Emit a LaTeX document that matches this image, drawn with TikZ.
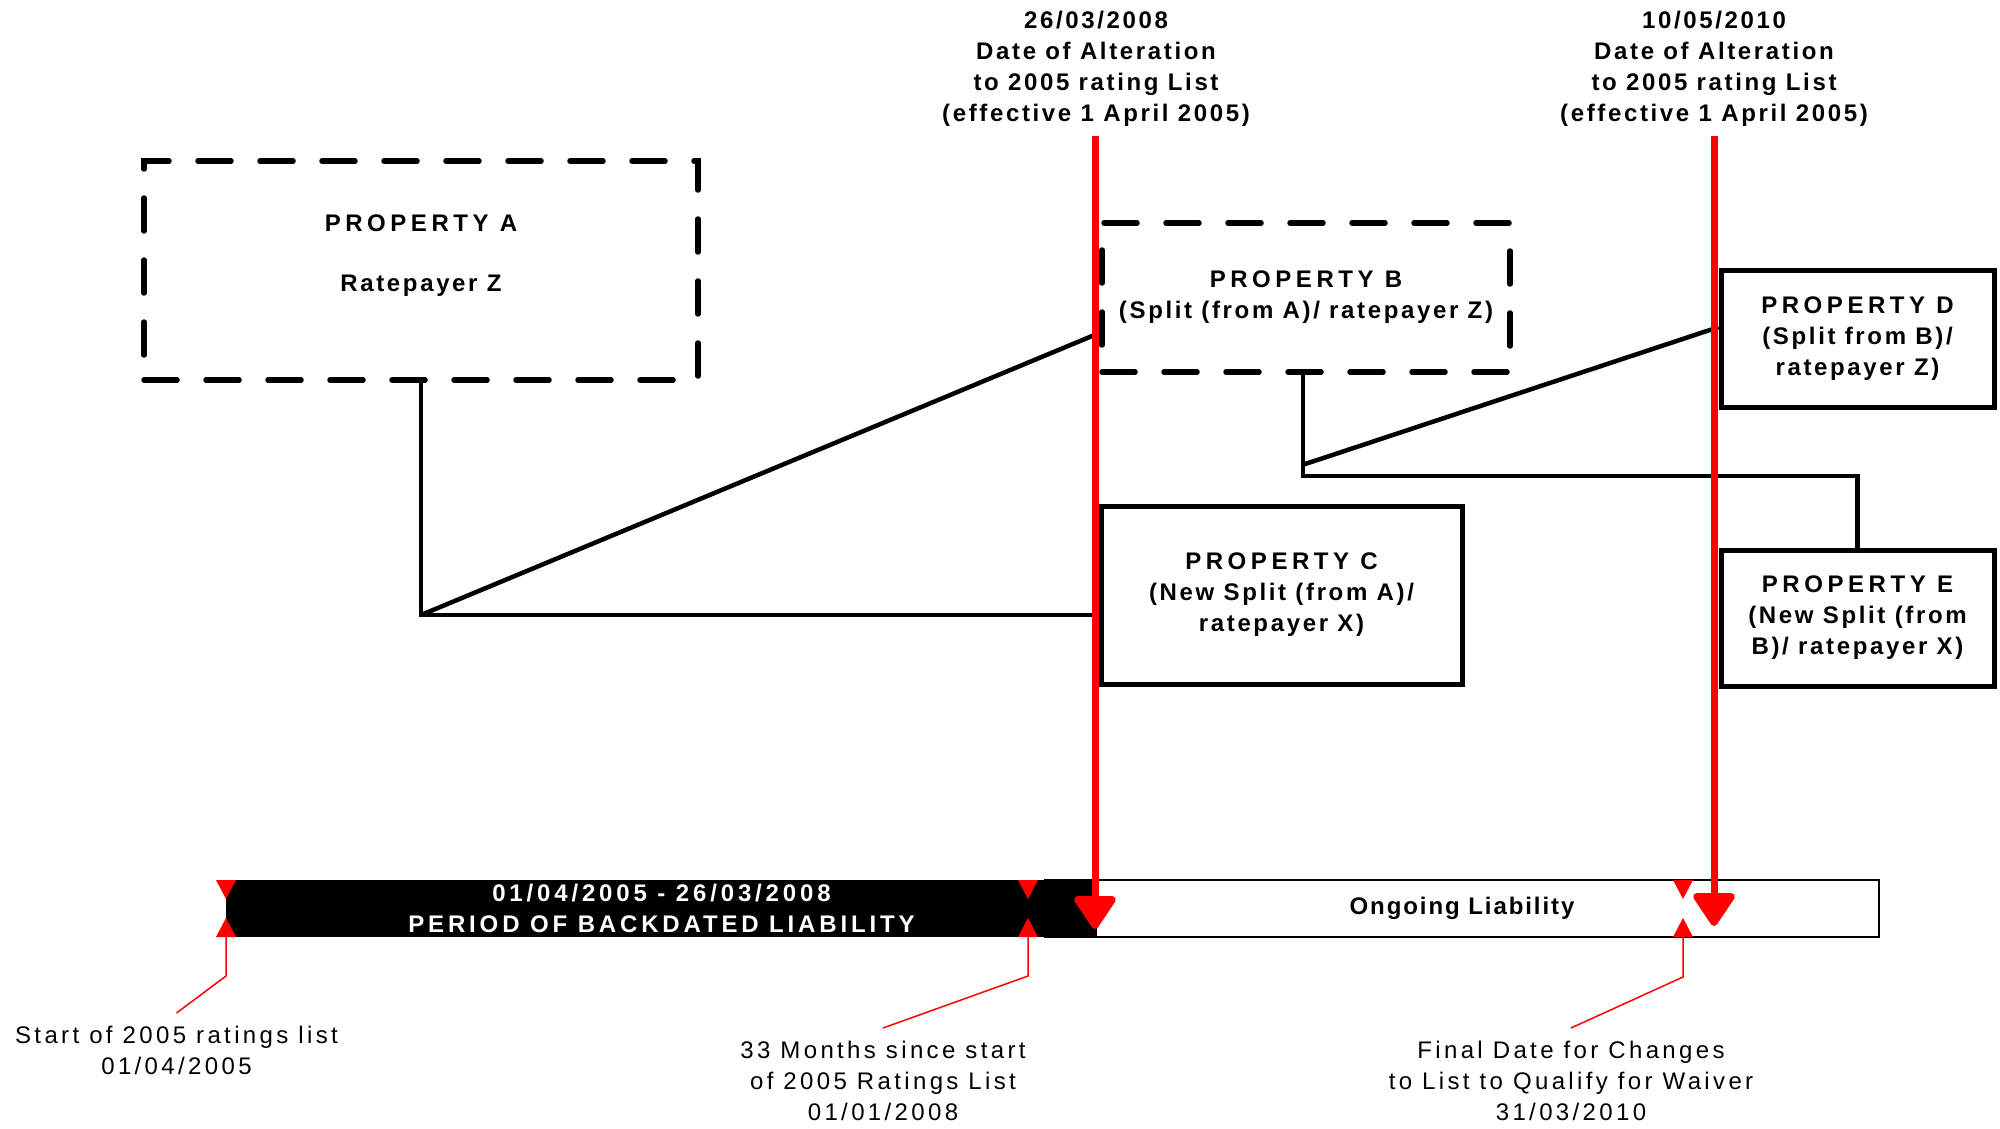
\documentclass[tikz,border=0pt]{standalone}
\usepackage{fontspec}
\setmainfont{Liberation Sans}
\newfontfamily\propfam[LetterSpace=11]{Liberation Sans}
\newfontfamily\capfam[LetterSpace=19]{Liberation Sans}
\newfontfamily\topfam[LetterSpace=11]{Liberation Sans}
\newfontfamily\barfam[LetterSpace=16]{Liberation Sans}
\newfontfamily\ongfam[LetterSpace=8]{Liberation Sans}
\newfontfamily\notefam[LetterSpace=14]{Liberation Sans}
\usetikzlibrary{arrows.meta,calc}
\newcommand{\fsz}{\fontsize{24}{31}\selectfont}
\newcommand{\ttl}[1]{{\capfam\bfseries #1}}

\begin{document}
\begin{tikzpicture}[x=1pt,y=-1pt,
  propbox/.style={draw=black, line width=5pt, align=center, inner sep=0pt, font=\propfam\bfseries\fsz},
  propdash/.style={propbox, line width=5.5pt, dash pattern=on 33pt off 29pt, line cap=round},
  proptext/.style={align=center, inner sep=0pt, font=\propfam\bfseries\fsz},
  conn/.style={draw=black, line width=4.5pt},
  redarrow/.style={draw=red, line width=7pt, -{Triangle[width=46pt,length=36pt,round]}},
  callout/.style={draw=red, line width=1.5pt},
  toplabel/.style={align=center, inner sep=0pt, anchor=north, font=\topfam\bfseries\fsz},
  notelabel/.style={align=center, inner sep=0pt, anchor=north, font=\notefam\fsz},
  barpart/.style={minimum height=57pt, inner sep=0pt, align=center}]

\useasboundingbox[fill=white] (0,0) rectangle (2000,1129);

% property boxes
\node[propdash, minimum width=554pt, minimum height=219pt] (A) at (421,270.5) {};
\node[proptext] (Atext) at (421,256) {\ttl{PROPERTY A}\\[29pt]Ratepayer Z};
\node[propdash, minimum width=408pt, minimum height=149pt] (B) at (1306,297.5) {\ttl{PROPERTY B}\\(Split (from A)/ ratepayer Z)};
\node[propbox, minimum width=361pt, minimum height=178pt] (C) at (1281.5,595) {\ttl{PROPERTY C}\\(New Split (from A)/\\ratepayer X)};
\node[propbox, minimum width=273pt, minimum height=137pt] (D) at (1857.5,338.5) {\ttl{PROPERTY D}\\(Split from B)/\\ratepayer Z)};
\node[propbox, minimum width=273pt, minimum height=136pt] (E) at (1857.5,618) {\ttl{PROPERTY E}\\(New Split (from\\B)/ ratepayer X)};

% connectors
\coordinate (ja) at (421,615);
\draw[conn] (A.south) -- (ja) -- (ja -| C.west);
\draw[conn] (ja) -- ($(B.south west)!0.27!(B.north west)$);
\path (B.south) ++(-3,101) coordinate (jb);
\draw[conn] (B.south -| jb) -- (jb) -- (jb -| E.north) -- (E.north);
\draw[conn] ($(jb)+(0,-11)$) -- ($(D.south west)!0.58!(D.north west)$);

% timeline bar
\node[barpart, draw=black, line width=1.5pt, fill=white, minimum width=834pt, font=\ongfam\bfseries\fsz] (ong) at (1462,908.5) {Ongoing Liability};
\node[barpart, fill=black, minimum width=871pt, text=white, font=\barfam\bfseries\fsz] (back) at (661.5,908.5) {01/04/2005 - 26/03/2008\\PERIOD OF BACKDATED LIABILITY};

% top labels and red arrows
\node[toplabel] (t1) at (1096,11) {26/03/2008\\Date of Alteration\\to 2005 rating List\\(effective 1 April 2005)};
\node[toplabel] (t2) at (1714,11) {10/05/2010\\Date of Alteration\\to 2005 rating List\\(effective 1 April 2005)};
\coordinate (tip1) at (1095,929);
\coordinate (tip2) at (1714,926);
\draw[redarrow] ($(t1.south -| tip1)+(0,9)$) -- (tip1);
\draw[redarrow] ($(t2.south -| tip2)+(0,9)$) -- (tip2);

% markers
\foreach \mx/\nm in {226/m1,1028/m2,1683/m3} {
  \fill[red] (\mx-10,880) -- (\mx+10,880) -- (\mx,899) -- cycle;
  \fill[red] (\mx-10,937) -- (\mx+10,937) -- (\mx,918) -- cycle;
  \coordinate (\nm) at (\mx,937);
}

% notes
\node[notelabel] (n1) at (176.5,1026) {Start of 2005 ratings list\\01/04/2005};
\node[notelabel] (n2) at (883,1041) {33 Months since start\\of 2005 Ratings List\\01/01/2008};
\node[notelabel] (n3) at (1571,1041) {Final Date for Changes\\to List to Qualify for Waiver\\31/03/2010};
\draw[callout] (m1) -- ++(0,39) -- ($(n1.north)+(0,-13)$);
\draw[callout] (m2) -- ++(0,39) -- ($(n2.north)+(0,-13)$);
\draw[callout] (m3) -- ++(0,40) -- ($(n3.north)+(0,-13)$);
\end{tikzpicture}
\end{document}
